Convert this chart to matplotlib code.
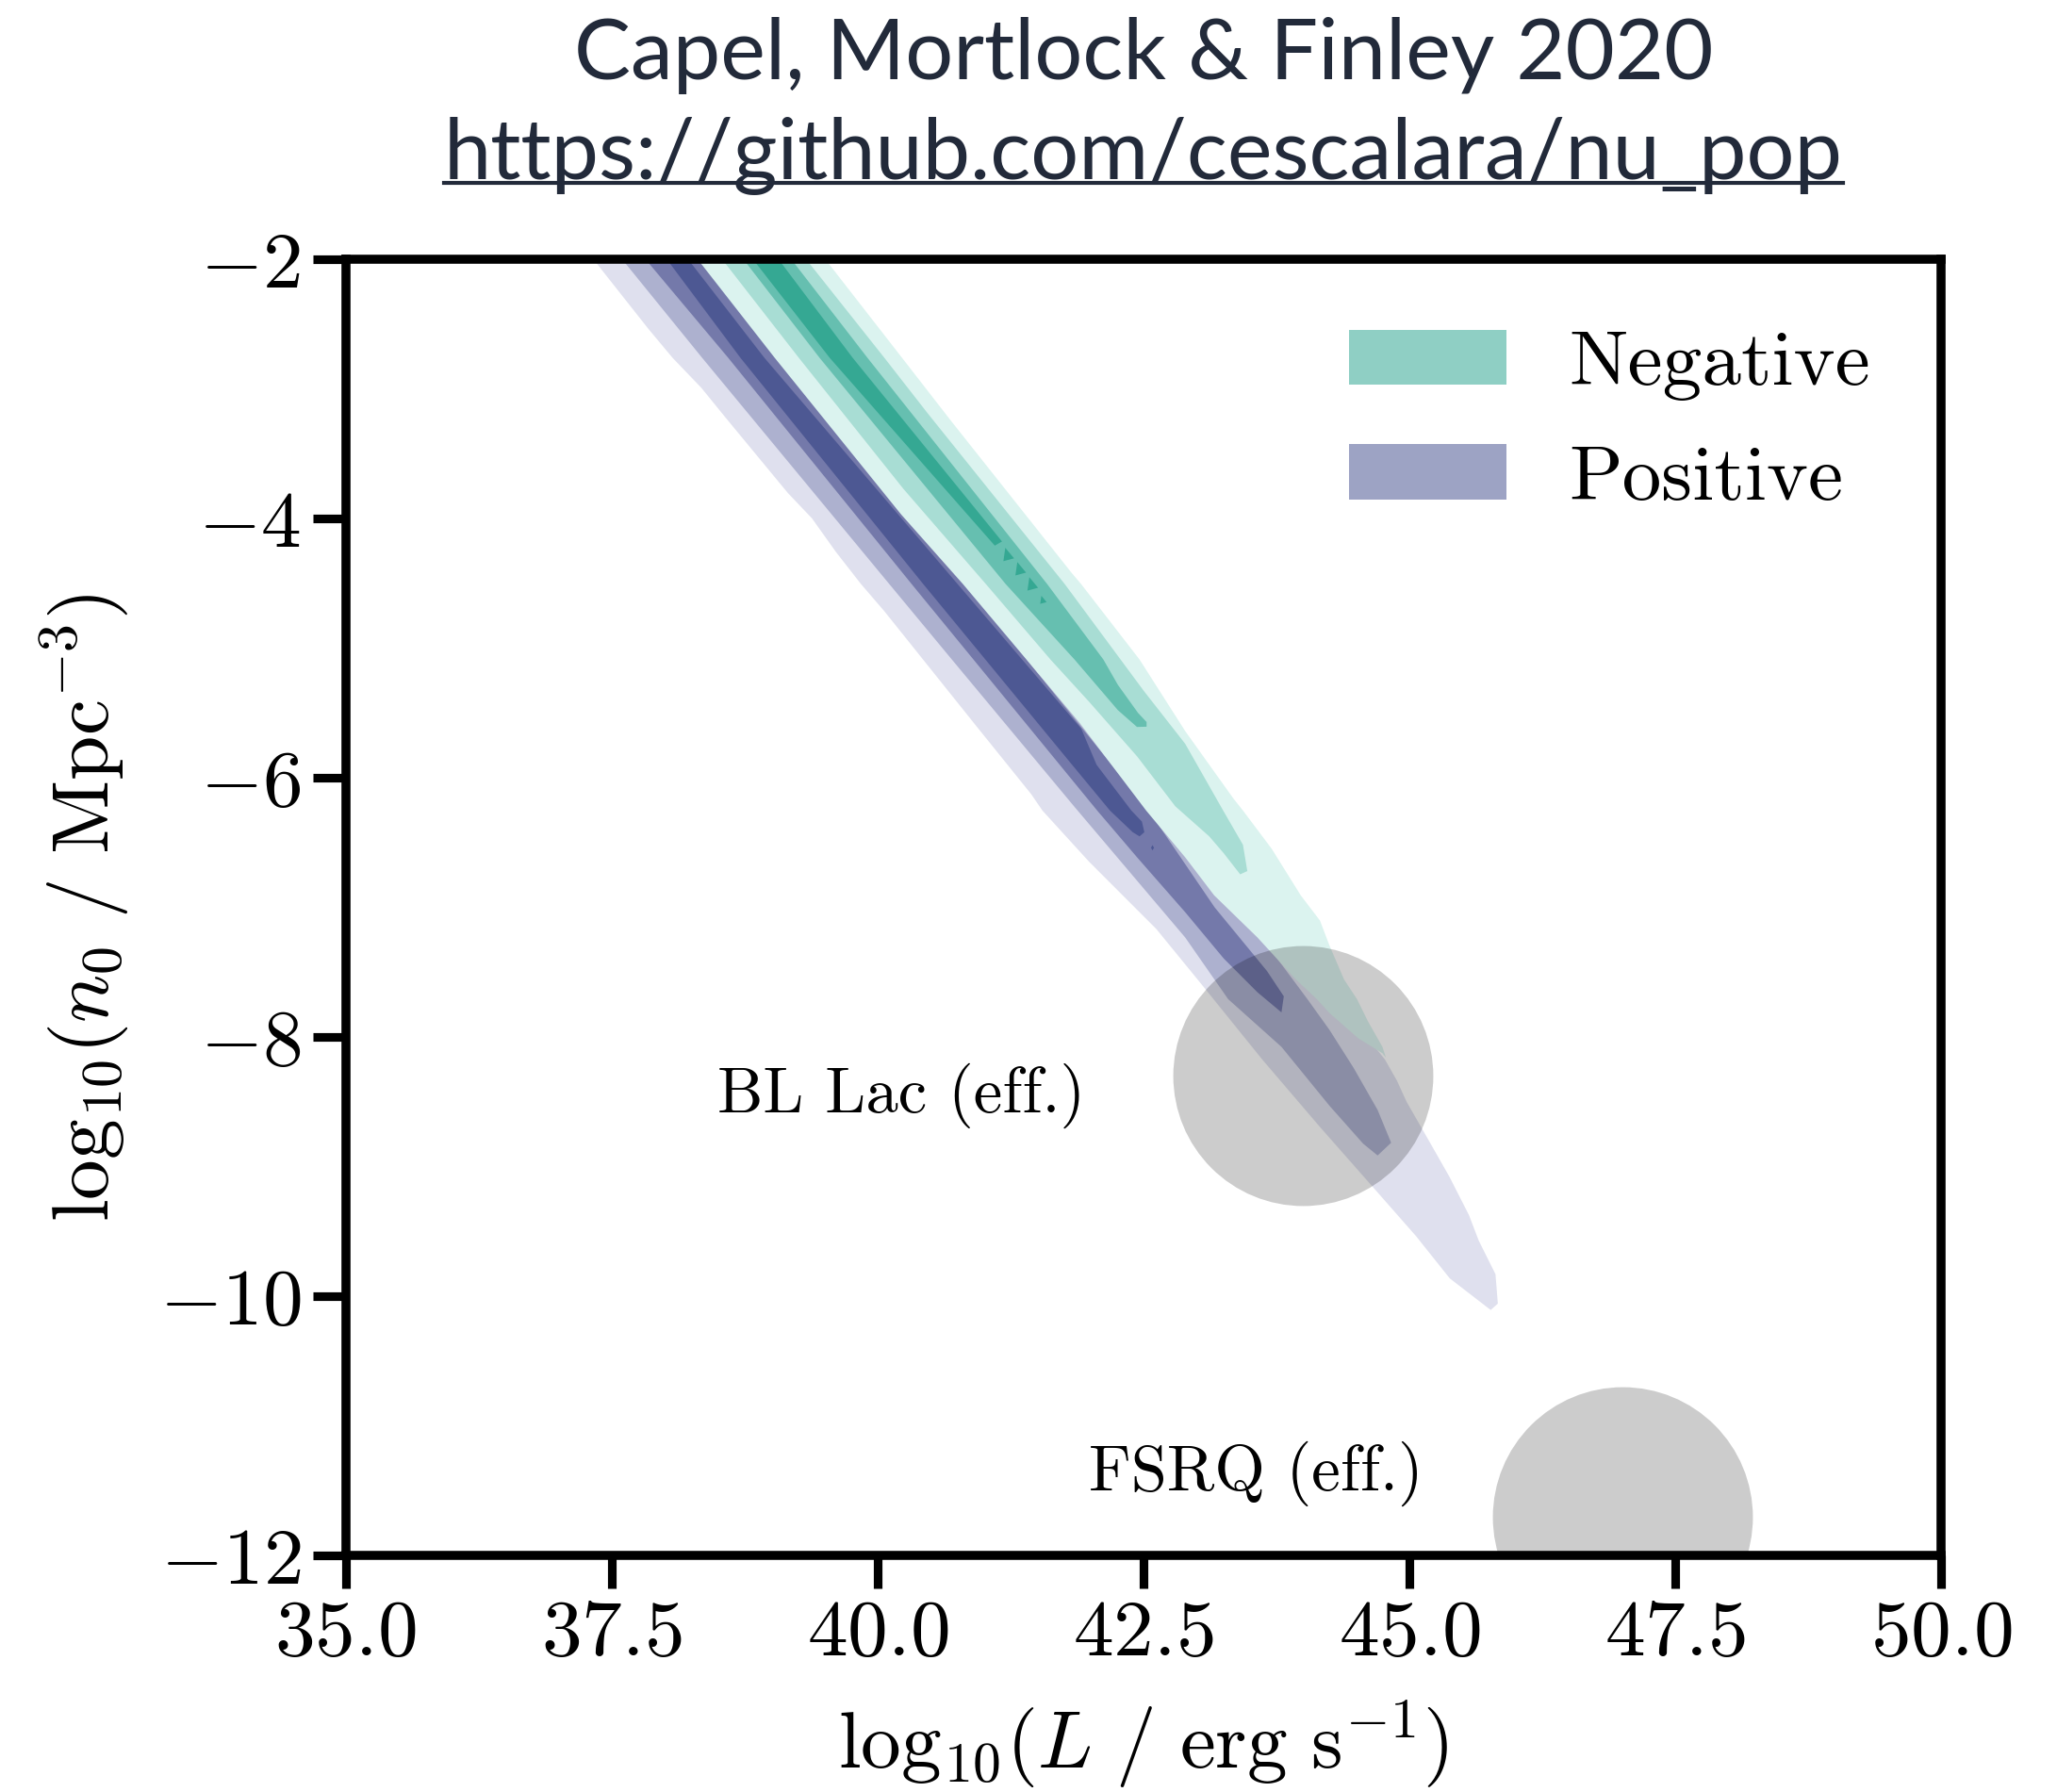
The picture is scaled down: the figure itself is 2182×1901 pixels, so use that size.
import matplotlib
matplotlib.use('Agg')
import matplotlib.pyplot as plt
from matplotlib.patches import Patch
from matplotlib.lines import Line2D

plt.rcParams.update({
    'font.family': 'serif',
    'font.serif': ['cmr10'],
    'mathtext.fontset': 'cm',
    'axes.formatter.use_mathtext': True,
    'font.size': 20,
})

# ---- contour levels: (x, y) = (log10 L, log10 n0) ----
# Positive (purple), outermost -> innermost; each level: left edge and right edge, top -> bottom
pos_left = [
    [(37.33, -2.0), (37.847, -2.537), (38.074, -2.76), (38.344, -2.991), (38.57, -3.219), (39.158, -3.803),
     (39.384, -3.998), (39.61, -4.258), (39.846, -4.506), (40.063, -4.713), (40.429, -5.088), (40.904, -5.575),
     (41.446, -6.127), (41.551, -6.253), (41.989, -6.647), (42.622, -7.167), (43.074, -7.621), (43.617, -8.173),
     (44.159, -8.693), (44.612, -9.115), (45.064, -9.537), (45.38, -9.862), (45.765, -10.106)],
    [(37.60, -2.0), (38.352, -2.76), (40.112, -4.506), (40.70, -5.088), (41.853, -6.225), (42.893, -7.232),
     (43.297, -7.708), (43.798, -8.076), (44.25, -8.531), (44.566, -8.823), (44.702, -8.914)],
    [(37.82, -2.0), (38.597, -2.76), (40.322, -4.506), (42.066, -6.253), (42.441, -6.614), (42.893, -7.037),
     (43.255, -7.394), (43.571, -7.654), (43.798, -7.81)],
    [(38.02, -2.0), (38.712, -2.76), (40.431, -4.506), (41.81, -5.88), (42.186, -6.253), (42.40, -6.42),
     (42.464, -6.452)],
]
pos_right = [
    [(38.60, -2.0), (39.30, -2.76), (41.10, -4.506), (42.80, -6.253), (43.40, -7.0), (44.20, -7.708),
     (44.55, -7.95), (44.77, -8.173), (44.883, -8.336), (44.973, -8.498), (45.109, -8.693), (45.20, -8.823),
     (45.38, -9.083), (45.561, -9.375), (45.652, -9.57), (45.81, -9.83), (45.832, -10.057)],
    [(38.60, -2.0), (39.30, -2.76), (41.10, -4.506), (42.80, -6.253), (43.40, -7.0), (44.042, -7.708),
     (44.25, -7.946), (44.476, -8.238), (44.702, -8.563), (44.829, -8.816)],
    [(38.34, -2.0), (39.06, -2.76), (40.83, -4.506), (42.55, -6.253), (43.17, -7.0), (43.662, -7.491),
     (43.82, -7.686)],
    [(38.22, -2.0), (38.937, -2.76), (40.754, -4.506), (41.916, -5.622), (42.06, -5.90), (42.387, -6.253),
     (42.486, -6.338), (42.509, -6.42)],
]
pos_islands = [[(42.585, -6.52), (42.60, -6.54), (42.585, -6.56), (42.572, -6.54)]]

# Negative (green)
neg_left = [
    [(38.31, -2.0), (39.034, -2.76), (40.22, -3.966), (40.804, -4.506), (41.401, -5.088), (41.899, -5.575),
     (42.526, -6.253), (42.893, -6.614), (43.165, -6.907), (43.572, -7.232), (43.933, -7.556), (44.13, -7.708),
     (44.25, -7.816), (44.521, -8.011), (44.747, -8.125), (44.779, -8.157)],
    [(38.54, -2.0), (39.261, -2.76), (40.244, -3.771), (41.02, -4.506), (41.627, -5.088), (41.989, -5.413),
     (42.441, -5.835), (42.80, -6.22), (43.119, -6.452), (43.255, -6.582), (43.41, -6.745)],
    [(38.74, -2.0), (39.456, -2.76), (41.206, -4.506), (41.853, -5.088), (42.26, -5.478), (42.44, -5.608)],
    [(38.83, -2.0), (39.551, -2.76), (41.103, -4.209)],
]
neg_right = [
    [(39.51, -2.0), (40.231, -2.76), (40.696, -3.251), (41.826, -4.42), (41.915, -4.506), (42.464, -5.088),
     (42.893, -5.64), (43.346, -6.16), (43.436, -6.253), (43.707, -6.549), (43.979, -6.907), (44.16, -7.102),
     (44.25, -7.296), (44.386, -7.556), (44.508, -7.708), (44.612, -7.881), (44.747, -8.076)],
    [(39.33, -2.0), (40.065, -2.76), (40.47, -3.186), (41.761, -4.506), (42.504, -5.33), (42.893, -5.738),
     (43.25, -6.253), (43.436, -6.517), (43.477, -6.72)],
    [(39.19, -2.0), (39.906, -2.76), (41.596, -4.506), (42.124, -5.088), (42.26, -5.283), (42.45, -5.50),
     (42.53, -5.57), (42.53, -5.606)],
    [(39.07, -2.0), (39.767, -2.76), (41.171, -4.177)],
]
neg_islands = [
    [(41.202, -4.226), (41.284, -4.307), (41.184, -4.329)],
    [(41.315, -4.336), (41.397, -4.417), (41.297, -4.439)],
    [(41.428, -4.453), (41.510, -4.534), (41.410, -4.556)],
    [(41.541, -4.596), (41.590, -4.645), (41.530, -4.658)],
]

pos_colors = ['#dfe0ee', '#adb1cf', '#7479aa', '#4d5893']
neg_colors = ['#dbf3ef', '#a8ddd4', '#66bfb0', '#35a893']

# effective source populations
pop_names = ['BL Lac (eff.)', 'FSRQ (eff.)']
pop_L = [44.0, 47.0]
pop_n0 = [-8.3, -11.7]
label_x = [41.95, 45.13]
label_y = [-8.45, -11.37]

fig = plt.figure(figsize=(2182 / 300, 1901 / 300), dpi=300)
ax = fig.add_axes([0.168, 0.132, 0.7757, 0.7233])


def draw_levels(lefts, rights, islands, colors, z):
    for i, (l, r) in enumerate(zip(lefts, rights)):
        pts = l + r[::-1]
        ax.fill([p[0] for p in pts], [p[1] for p in pts], color=colors[i], lw=0, zorder=z + i)
    for isl in islands:
        ax.fill([p[0] for p in isl], [p[1] for p in isl], color=colors[-1], lw=0, zorder=z + len(colors))


draw_levels(pos_left, pos_right, pos_islands, pos_colors, 1)
draw_levels(neg_left, neg_right, neg_islands, neg_colors, 10)

ax.scatter(pop_L, pop_n0, s=66.2 ** 2, color='k', alpha=0.2, lw=0, zorder=20)
for name, tx, ty in zip(pop_names, label_x, label_y):
    ax.text(tx, ty, name, ha='right', va='center', fontsize=16.5, zorder=21)

ax.set_xlim(35, 50)
ax.set_ylim(-12, -2)
ax.set_xticks([35, 37.5, 40, 42.5, 45, 47.5, 50])
ax.set_yticks([-12, -10, -8, -6, -4, -2])
ax.xaxis.set_major_formatter(matplotlib.ticker.FormatStrFormatter('$%.1f$'))
ax.yaxis.set_major_formatter(matplotlib.ticker.FuncFormatter(lambda v, p: '$%d$' % v))
for s in ['top', 'right', 'bottom', 'left']:
    ax.spines[s].set_linewidth(2.3)
    ax.spines[s].set_zorder(30)
ax.tick_params(direction='out', length=8.4, width=2.2, labelsize=20.5, pad=3)

ax.set_xlabel(r'$\mathrm{log}_{10}(L\ /\ \mathrm{erg\ s}^{-1})$', fontsize=20.5, labelpad=7)
ax.set_ylabel(r'$\mathrm{log}_{10}(n_0\ /\ \mathrm{Mpc}^{-3})$', fontsize=20.5, labelpad=7)

handles = [Patch(color='#8fcfc4', lw=0), Patch(color='#9da3c4', lw=0)]
ax.legend(handles, ['Negative', 'Positive'], loc='upper right', frameon=False, fontsize=20,
          labelspacing=0.55)

title_color = '#222a3a'
xc = 0.168 + 0.7757 / 2
fig.text(xc, 1 - 83.5 / 1901, 'Capel, Mortlock & Finley 2020', ha='center', va='baseline',
         family='Lato', fontsize=21.6, color=title_color)
url = fig.text(xc, 1 - 190 / 1901, 'https://github.com/cescalara/nu_pop', ha='center', va='baseline',
               family='Lato', fontsize=21.6, color=title_color)

fig.canvas.draw()
bb = url.get_window_extent()
yline = (1901 - 190 - 4) / 1901
fig.add_artist(Line2D([bb.x0 / 2182, bb.x1 / 2182], [yline, yline], color=title_color, lw=1.0))

fig.savefig('out.png', dpi=300)
